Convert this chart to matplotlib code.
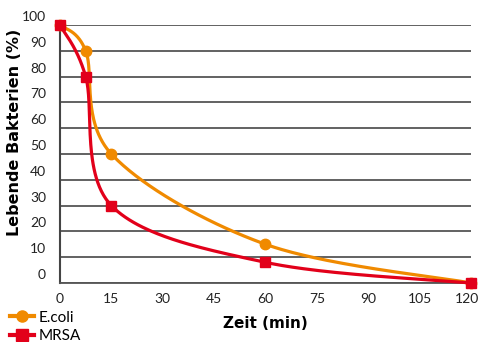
import numpy as np
import matplotlib
matplotlib.use('Agg')
import matplotlib.pyplot as plt
from matplotlib.transforms import ScaledTranslation

# survival curves
zeit = [0, 7.5, 15, 60, 120]
ecoli = [100, 90, 50, 15, 0]
mrsa = [100, 80, 30, 8, 0]

x_ticks = [0, 15, 30, 45, 60, 75, 90, 105, 120]
y_ticks = [0, 10, 20, 30, 40, 50, 60, 70, 80, 90, 100]

ORANGE = '#F08A00'
RED = '#E2001A'


def smooth(xs, ys, n=60, sx=411 / 120, sy=258 / 100):
    # catmull-rom through the points, worked out in (roughly) pixel space
    p = np.column_stack([np.asarray(xs) * sx, np.asarray(ys) * sy])
    p = np.vstack([p[0], p, p[-1]])
    out = []
    for i in range(1, len(p) - 2):
        p0, p1, p2, p3 = p[i - 1], p[i], p[i + 1], p[i + 2]
        t1 = (p2 - p0) / 2
        t2 = (p3 - p1) / 2
        c1 = p1 + t1 / 3
        c2 = p2 - t2 / 3
        t = np.linspace(0, 1, n)[:, None]
        seg = ((1 - t) ** 3) * p1 + 3 * ((1 - t) ** 2) * t * c1 \
            + 3 * (1 - t) * t ** 2 * c2 + t ** 3 * p2
        out.append(seg)
    out = np.vstack(out)
    return out[:, 0] / sx, out[:, 1] / sy


plt.rcParams['font.family'] = ['Lato', 'DejaVu Sans']

fig = plt.figure(figsize=(4.81, 3.42), dpi=100)
ax = fig.add_axes([60 / 481, 1 - 283 / 342, 411 / 481, 258 / 342])

for v in y_ticks:
    ax.axhline(v, color='#555555', lw=1.3, zorder=1)

cx, cy = smooth(zeit, ecoli)
ax.plot(cx, cy, color=ORANGE, lw=2.3, zorder=3, clip_on=False)
ax.plot(zeit, ecoli, 'o', color=ORANGE, ms=7.5, zorder=4, clip_on=False)

cx, cy = smooth(zeit, mrsa)
ax.plot(cx, cy, color=RED, lw=2.3, zorder=5, clip_on=False)
ax.plot(zeit, mrsa, 's', color=RED, ms=7.5, zorder=6, clip_on=False)

ax.set_xlim(0, 120)
ax.set_ylim(0, 100)
ax.set_xticks(x_ticks)
ax.set_yticks(y_ticks)
ax.tick_params(length=0, labelsize=10, colors='#222222')
ax.tick_params(axis='x', pad=7)
ax.tick_params(axis='y', pad=10)
# the y labels sit a little above their lines in the original
for lab in ax.get_yticklabels():
    lab.set_transform(lab.get_transform() + ScaledTranslation(0, 6.5 / 72, fig.dpi_scale_trans))
last = ax.get_xticklabels()[-1]
last.set_transform(last.get_transform() + ScaledTranslation(-3 / 72, 0, fig.dpi_scale_trans))

for s in ['top', 'right']:
    ax.spines[s].set_visible(False)
ax.spines['left'].set_color('#444444')
ax.spines['left'].set_linewidth(1.5)
ax.spines['bottom'].set_color('#555555')
ax.spines['bottom'].set_linewidth(1.3)

ax.set_xlabel('Zeit (min)', fontsize=11, fontweight='bold', family='DejaVu Sans', labelpad=8)
ax.set_ylabel('Lebende Bakterien (%)', fontsize=11.5, fontweight='bold', family='DejaVu Sans')
ax.yaxis.set_label_coords(-0.093, 0.585)

h1, = ax.plot([], [], '-o', color=ORANGE, lw=3, ms=8)
h2, = ax.plot([], [], '-s', color=RED, lw=3, ms=8)
fig.legend([h1, h2], ['E.coli', 'MRSA'], loc='upper left',
           bbox_to_anchor=(8 / 481, 1 - 309 / 342), frameon=False, fontsize=11,
           handlelength=1.6, handletextpad=0.3, labelspacing=0.3,
           borderaxespad=0, borderpad=0.1)

fig.savefig('out.png', dpi=100)
